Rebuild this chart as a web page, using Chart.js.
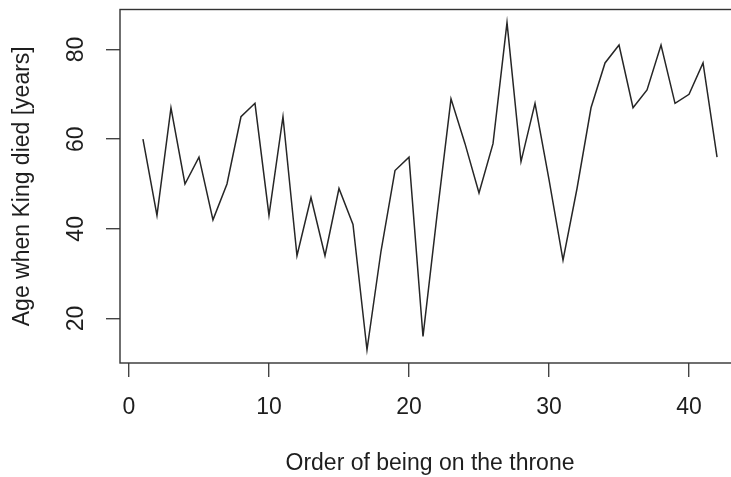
<!DOCTYPE html>
<html>
<head>
<meta charset="utf-8">
<title>Age of death of successive kings</title>
<script src="https://cdn.jsdelivr.net/npm/chart.js@4/dist/chart.umd.min.js"></script>
<style>
  html, body { margin: 0; padding: 0; background: #ffffff; overflow: hidden; }
  #wrap { position: relative; width: 760px; height: 477px; }
</style>
</head>
<body>
<div id="wrap"><canvas id="chart"></canvas></div>
<script>
// Order in which each king reigned
const reignOrder = [1, 2, 3, 4, 5, 6, 7, 8, 9, 10, 11, 12, 13, 14, 15, 16, 17, 18, 19, 20, 21,
                    22, 23, 24, 25, 26, 27, 28, 29, 30, 31, 32, 33, 34, 35, 36, 37, 38, 39, 40, 41, 42];
// Age at death of each king, in years
const ageAtDeath = [60, 43, 67, 50, 56, 42, 50, 65, 68, 43, 65, 34, 47, 34, 49, 41, 13, 35, 53, 56, 16,
                    43, 69, 59, 48, 59, 86, 55, 68, 51, 33, 49, 67, 77, 81, 67, 71, 81, 68, 70, 77, 56];
// Axis tick values
const xTickValues = [0, 10, 20, 30, 40];
const yTickValues = [20, 40, 60, 80];
// Axis titles
const xTitle = 'Order of being on the throne';
const yTitle = 'Age when King died [years]';

// Axis ranges padded by 4% on each side
const xSpan = Math.max(...reignOrder) - Math.min(...reignOrder);
const ySpan = Math.max(...ageAtDeath) - Math.min(...ageAtDeath);
const xMin = Math.min(...reignOrder) - 0.04 * xSpan;
const xMax = Math.max(...reignOrder) + 0.04 * xSpan;
const yMin = Math.min(...ageAtDeath) - 0.04 * ySpan;
const yMax = Math.max(...ageAtDeath) + 0.04 * ySpan;

const points = reignOrder.map((x, i) => ({ x: x, y: ageAtDeath[i] }));

const ink = '#1e1e1e';
const font = { family: "'Liberation Sans', Arial, sans-serif", size: 23 };

// Draws the closed frame around the plotting region
const frame = {
  id: 'frame',
  afterDatasetsDraw(chart) {
    const a = chart.chartArea;
    const ctx = chart.ctx;
    ctx.save();
    ctx.strokeStyle = '#333333';
    ctx.lineWidth = 1.4;
    ctx.strokeRect(a.left, a.top, a.right - a.left, a.bottom - a.top);
    ctx.restore();
  }
};

// Fixed axis sizes, without extra room reserved for edge labels
function fixX(scale) {
  scale.height = 114;
  scale.paddingLeft = 0; scale.paddingRight = 0;
  scale.paddingTop = 0; scale.paddingBottom = 0;
}
function fixY(scale) {
  scale.width = 120;
  scale.paddingLeft = 0; scale.paddingRight = 0;
  scale.paddingTop = 0; scale.paddingBottom = 0;
}

new Chart(document.getElementById('chart'), {
  type: 'line',
  data: {
    datasets: [{
      data: points,
      borderColor: '#262626',
      borderWidth: 1.5,
      pointRadius: 0,
      tension: 0,
      fill: false
    }]
  },
  options: {
    responsive: true,
    maintainAspectRatio: false,
    animation: false,
    events: [],
    layout: { padding: { top: 9.5, right: 20, left: 0, bottom: 0 } },
    plugins: { legend: { display: false }, tooltip: { enabled: false } },
    scales: {
      x: {
        type: 'linear',
        min: xMin,
        max: xMax,
        afterBuildTicks(scale) { scale.ticks = xTickValues.map(v => ({ value: v })); },
        afterFit: fixX,
        grid: { display: true, drawOnChartArea: false, drawTicks: true, tickLength: 14, color: '#444444', lineWidth: 1.4 },
        border: { display: false },
        ticks: { color: ink, font: font, padding: 17, maxRotation: 0, autoSkip: false },
        title: { display: true, text: xTitle, color: ink, font: font, padding: { top: 2, bottom: 0 } }
      },
      y: {
        type: 'linear',
        min: yMin,
        max: yMax,
        afterBuildTicks(scale) { scale.ticks = yTickValues.map(v => ({ value: v })); },
        afterFit: fixY,
        grid: { display: true, drawOnChartArea: false, drawTicks: true, tickLength: 14, color: '#444444', lineWidth: 1.4 },
        border: { display: false },
        ticks: { color: ink, font: font, padding: 17, minRotation: 90, maxRotation: 90, crossAlign: 'center', autoSkip: false },
        title: { display: true, text: yTitle, color: ink, font: font, padding: { top: 9, bottom: 0 } }
      }
    }
  },
  plugins: [frame]
});
</script>
</body>
</html>
